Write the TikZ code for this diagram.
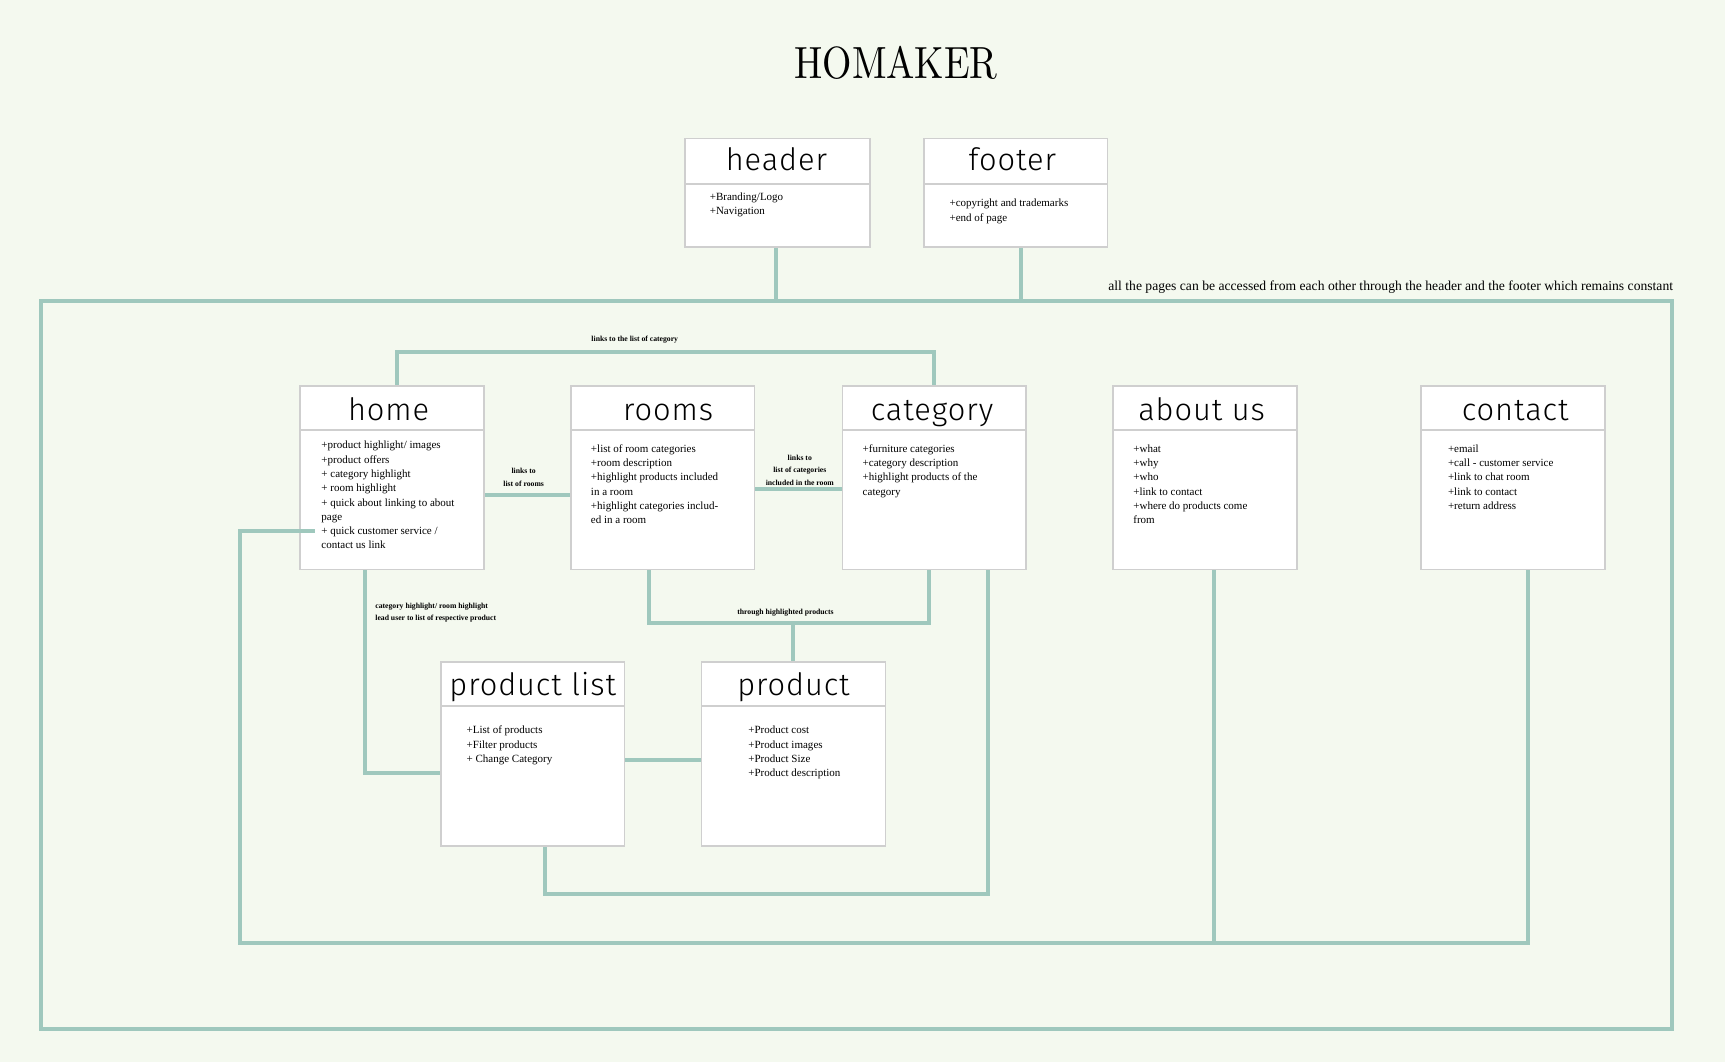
\documentclass[tikz,border=0pt]{standalone}
\usepackage{fontspec}
\usepackage{graphicx}
\usetikzlibrary{calc}
\newfontfamily\bodyfont{Liberation Serif}
\IfFontExistsTF{Fira Sans Light}{\newfontfamily\ttlfont[LetterSpace=3]{Fira Sans Light}}{\newfontfamily\ttlfont[LetterSpace=3]{Fira Sans}}
\definecolor{bgc}{HTML}{F4F9EF}
\definecolor{linec}{HTML}{9FC8BD}
\definecolor{boxc}{HTML}{CFCFCF}
\pgfdeclarelayer{back}\pgfdeclarelayer{mid}\pgfsetlayers{back,mid,main}
\tikzset{
 pagebox/.style={draw=boxc, fill=white, line width=1.5pt, inner sep=0pt, minimum width=167pt, minimum height=167pt, anchor=north west},
 divl/.style={draw=boxc, line width=1.5pt},
 conn/.style={draw=linec, line width=3.6pt},
 ttl/.style={font=\ttlfont\fontsize{28}{28}\selectfont, anchor=base, inner sep=0pt},
 body/.style={font=\bodyfont\fontsize{10}{13}\selectfont, anchor=base west, inner sep=0pt},
 lbl/.style={font=\bodyfont\bfseries\fontsize{7}{11.5}\selectfont, align=center, inner sep=0pt},
 note/.style={font=\bodyfont\fontsize{12.4}{13}\selectfont, inner sep=0pt},
}
\newcommand{\bl}[1]{\parbox[t]{170pt}{\bodyfont\fontsize{10}{13}\selectfont #1}}
\begin{document}
\begin{tikzpicture}[x=1pt,y=-1pt]
\useasboundingbox (0,0) rectangle (1568,965);
\begin{pgfonlayer}{back}
\fill[bgc] (0,0) rectangle (1568,965);
\end{pgfonlayer}

% title
\node[anchor=base, inner sep=0pt] (title) at (814.5,71) {\scalebox{3.43}[4.1]{\fontsize{10}{10}\selectfont HOMAKER}};

% boxes
\node[pagebox, minimum width=168pt, minimum height=99pt] (header) at (622,125) {};
\node[pagebox, minimum height=99pt] (footer) at (839,125) {};
\node[pagebox] (home) at (272,350) {};
\node[pagebox] (rooms) at (518,350) {};
\node[pagebox] (category) at (765,350) {};
\node[pagebox] (about) at (1011,350) {};
\node[pagebox] (contact) at (1291,350) {};
\node[pagebox] (plist) at (400,601) {};
\node[pagebox] (product) at (637,601) {};

\draw[divl] ($(header.north west)+(0,42)$) -- ($(header.north east)+(0,42)$);
\draw[divl] ($(footer.north west)+(0,42)$) -- ($(footer.north east)+(0,42)$);
\foreach \n in {home,rooms,category,about,contact,plist,product}
  {\draw[divl] ($(\n.north west)+(0,41)$) -- ($(\n.north east)+(0,41)$);}

% box titles
\node[ttl] (headerT) at ($(header.north)+(-1,30)$) {header};
\node[ttl] (footerT) at ($(footer.north)+(-3,30)$) {footer};
\node[ttl] (homeT) at ($(home.north)+(-3,32)$) {home};
\node[ttl] (roomsT) at ($(rooms.north)+(5,32)$) {rooms};
\node[ttl] (categoryT) at ($(category.north)+(-2,32)$) {category};
\node[ttl] (aboutT) at ($(about.north)+(-3,32)$) {about us};
\node[ttl] (contactT) at ($(contact.north)+(2,32)$) {contact};
\node[ttl] (plistT) at ($(plist.north)+(0,31)$) {product list};
\node[ttl] (productT) at ($(product.north)+(0,31)$) {product};

% box contents
\node[body] (headerB) at (645,182) {\bl{+Branding/Logo\\+Navigation}};
\node[body] (footerB) at (863,188) {\bl{+copyright and trademarks\\+end of page}};
\node[body] (homeB) at (292,408) {\bl{+product highlight/ images\\+product offers\\+ category highlight\\+ room highlight\\+ quick about linking to about\\page\\+ quick customer service /\\contact us link}};
\node[body] (roomsB) at (537,411) {\bl{+list of room categories\\+room description\\+highlight products included\\in a room\\+highlight categories includ-\\ed in a room}};
\node[body] (categoryB) at (784,411) {\bl{+furniture categories\\+category description\\+highlight products of the\\category}};
\node[body] (aboutB) at (1030,411) {\bl{+what\\+why\\+who\\+link to contact\\+where do products come\\from}};
\node[body] (contactB) at (1316,411) {\bl{+email\\+call - customer service\\+link to chat room\\+link to contact\\+return address}};
\node[body] (plistB) at (424,667) {\bl{+List of products\\+Filter products\\+ Change Category}};
\node[body] (productB) at (680,667) {\bl{+Product cost\\+Product images\\+Product Size\\+Product description}};

% connectors (behind boxes)
\begin{pgfonlayer}{mid}
\draw[conn] (37,274) rectangle (1520,935);
\draw[conn] ([xshift=-1pt]header.south) -- ++(0,50);
\draw[conn] ([xshift=4.5pt]footer.south) -- ++(0,50);
\draw[conn] ([xshift=4.5pt]home.north) -- ++(0,-30) -| ([xshift=-0.5pt]category.north);
\draw[conn] ([yshift=-15.5pt]home.east) -- ([yshift=-15.5pt]rooms.west);
\draw[conn] ([yshift=-10.5pt]rooms.east) -- ([yshift=-10.5pt]category.west);
\draw[conn] ([xshift=8.5pt]about.south) -- ++(0,340);
\draw[conn] ([xshift=-24.5pt]home.south) |- ([yshift=-17.5pt]plist.west);
\draw[conn] ([xshift=-12.5pt]rooms.south) -- ++(0,48) -| ([xshift=-4.5pt]category.south);
\draw[conn] (product.north) -- ++(0,-36);
\draw[conn] ([yshift=-5.5pt]plist.east) -- ([yshift=-5.5pt]product.west);
\draw[conn] ([xshift=11.5pt]plist.south) -- ++(0,43) -| ([xshift=48.5pt]category.south);
\end{pgfonlayer}
\coordinate (hstub) at (286,483);
\draw[conn] (hstub) -| (218,857) -| ([xshift=13.5pt]contact.south);

% labels
\node[note, anchor=base east] (noteAll) at (1521,264) {all the pages can be accessed from each other through the header and the footer which remains constant};
\node[lbl] (lblCat) at (577,309) {links to the list of category};
\node[lbl] (lblRooms) at (476,434) {links to\\list of rooms};
\node[lbl] (lblRC) at (727,427.5) {links to\\list of categories\\included in the room};
\node[lbl, align=left, anchor=west] (lblHL) at (341,557) {category highlight/ room highlight\\lead user to list of respective product};
\node[lbl] (lblThrough) at (714,557) {through highlighted products};
\end{tikzpicture}
\end{document}
